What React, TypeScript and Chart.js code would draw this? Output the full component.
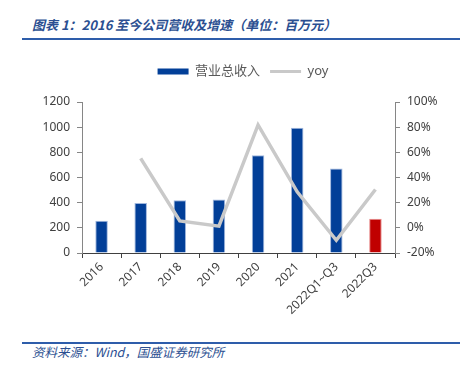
import React, { useEffect, useRef } from "react";
import { Chart, registerables } from "chart.js";

Chart.register(...registerables);

const categories = ["2016", "2017", "2018", "2019", "2020", "2021", "2022Q1~Q3", "2022Q3"];
const revenue = [256, 398, 420, 425, 776, 996, 672, 272];
const yoy = [null, 55.2, 5.5, 1.3, 81.8, 28.6, -9.9, 30.5];
const leftTicks = [0, 200, 400, 600, 800, 1000, 1200];
const rightTicks = [-20, 0, 20, 40, 60, 80, 100];
const seriesNames = ["营业总收入", "yoy"];
const titleText = "图表 1：2016 至今公司营收及增速（单位：百万元）";
const sourceText = "资料来源：Wind，国盛证券研究所";

const BLUE = "#023f98";
const RED = "#c00000";
const GRAY = "#c9c9c9";
const FONT = '"Noto Sans", "Noto Sans CJK SC", sans-serif';

const legendTweak = {
  id: "legendTweak",
  afterInit(chart: any) {
    const lg = chart.legend;
    if (!lg || lg.__patched) return;
    const orig = lg.fit;
    lg.fit = function (this: any) {
      orig.call(this);
      this.height += 14;
      if (this.lineWidths && this.lineWidths.length) this.lineWidths[0] -= 20;
    };
    lg.__patched = true;
  },
};

export default function App() {
  const ref = useRef<HTMLCanvasElement | null>(null);

  useEffect(() => {
    if (!ref.current) return;
    const barColors = revenue.map((_, i) => (i === revenue.length - 1 ? RED : BLUE));
    const barBorders = revenue.map((_, i) => (i === revenue.length - 1 ? "#e88a8a" : "#9fb6dd"));
    const chart = new Chart(ref.current, {
      type: "bar",
      plugins: [legendTweak],
      data: {
        labels: categories,
        datasets: [
          {
            type: "bar",
            label: seriesNames[0],
            data: revenue,
            backgroundColor: barColors,
            borderColor: barBorders,
            borderWidth: 1,
            barPercentage: 0.32,
            categoryPercentage: 1,
            yAxisID: "y",
            order: 1,
          },
          {
            type: "line",
            label: seriesNames[1],
            data: yoy as any,
            borderColor: GRAY,
            backgroundColor: GRAY,
            borderWidth: 3.5,
            pointRadius: 0,
            tension: 0,
            yAxisID: "y1",
            order: 0,
          },
        ],
      },
      options: {
        animation: false,
        responsive: false,
        maintainAspectRatio: false,
        layout: { padding: { top: 0, left: 0, right: 0, bottom: 0 } },
        plugins: {
          tooltip: { enabled: false },
          legend: {
            display: true,
            position: "top",
            labels: {
              color: "#595959",
              font: { family: FONT, size: 13 },
              usePointStyle: true,
              pointStyleWidth: 31,
              boxHeight: 6,
              padding: 10,
              sort: (a: any, b: any) => a.datasetIndex - b.datasetIndex,
              generateLabels: (c: any) =>
                c.data.datasets.map((ds: any, i: number) => ({
                  text: ds.label,
                  datasetIndex: i,
                  fillStyle: i === 0 ? BLUE : GRAY,
                  strokeStyle: i === 0 ? BLUE : GRAY,
                  lineWidth: i === 0 ? 0 : 3,
                  pointStyle: i === 0 ? "rect" : "line",
                  fontColor: "#595959",
                  hidden: false,
                })),
            },
          },
        },
        scales: {
          x: {
            grid: {
              display: true,
              drawOnChartArea: false,
              drawTicks: true,
              tickLength: 5,
              color: "#404040",
              offset: true,
            },
            border: { display: true, color: "#404040", width: 1 },
            ticks: {
              color: "#404040",
              font: { family: FONT, size: 12 },
              maxRotation: 45,
              minRotation: 45,
              autoSkip: false,
              padding: 2,
            },
            afterFit: (s: any) => {
              s.height = 82;
            },
          },
          y: {
            position: "left",
            min: 0,
            max: 1200,
            afterBuildTicks: (s: any) => {
              s.ticks = leftTicks.map((v) => ({ value: v }));
            },
            grid: {
              display: true,
              drawOnChartArea: false,
              tickLength: 5,
              color: "#868686",
            },
            border: { display: true, color: "#868686", width: 1 },
            ticks: {
              color: "#404040",
              font: { family: FONT, size: 12 },
              padding: 7,
              callback: (v: any) => String(v),
            },
            afterFit: (s: any) => {
              s.width = 82;
            },
          },
          y1: {
            position: "right",
            min: -20,
            max: 100,
            afterBuildTicks: (s: any) => {
              s.ticks = rightTicks.map((v) => ({ value: v }));
            },
            grid: {
              display: true,
              drawOnChartArea: false,
              tickLength: 5,
              color: "#868686",
            },
            border: { display: true, color: "#868686", width: 1 },
            ticks: {
              color: "#404040",
              font: { family: FONT, size: 12 },
              padding: 7,
              callback: (v: any) => `${v}%`,
            },
            afterFit: (s: any) => {
              s.width = 71;
            },
          },
        },
      },
    });
    return () => chart.destroy();
  }, []);

  const textStyle: React.CSSProperties = {
    position: "absolute",
    left: 32,
    fontFamily: '"Noto Sans CJK SC", "Noto Sans", sans-serif',
    fontStyle: "italic",
    color: "#2b4f91",
    whiteSpace: "nowrap",
    lineHeight: "16px",
  };

  return (
    <div style={{ position: "absolute", left: 0, top: 0, width: 466, height: 367, background: "#fff", overflow: "hidden" }}>
      <div style={{ ...textStyle, top: 17, fontSize: 13, fontWeight: 600 }}>{titleText}</div>
      <div style={{ position: "absolute", left: 22, top: 38, width: 438, height: 2, background: "#2e5daa" }} />
      <canvas ref={ref} width={466} height={280} style={{ position: "absolute", left: 0, top: 55, width: 466, height: 280 }} />
      <div style={{ position: "absolute", left: 22, top: 342, width: 438, height: 2, background: "#2e5daa" }} />
      <div style={{ ...textStyle, top: 344, fontSize: 12.5 }}>{sourceText}</div>
    </div>
  );
}
